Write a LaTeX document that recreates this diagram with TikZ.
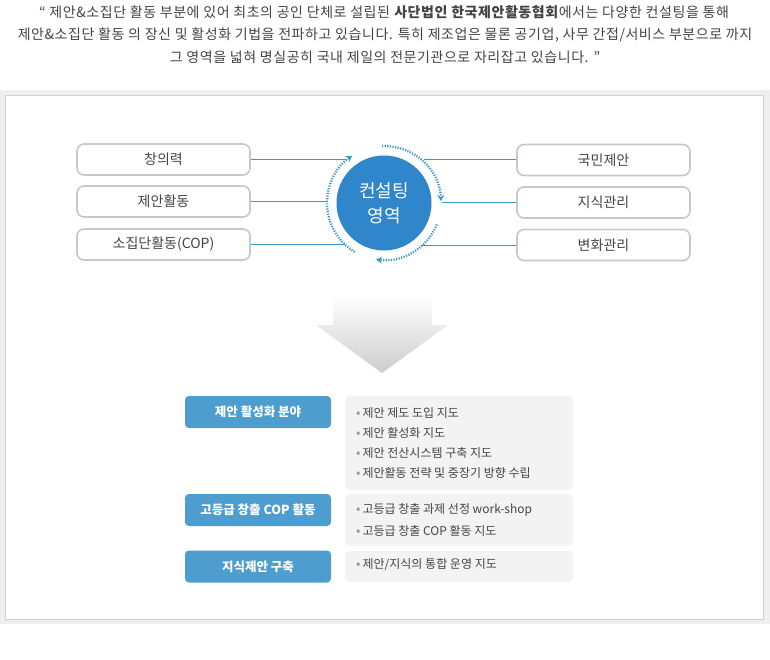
\documentclass[tikz,border=0pt]{standalone}
\usepackage{fontspec}
\setmainfont{Noto Sans CJK KR}
\usetikzlibrary{arrows.meta,calc}
\definecolor{txt}{RGB}{68,68,68}
\definecolor{boxline}{RGB}{200,200,200}
\definecolor{circblue}{RGB}{47,134,203}
\definecolor{lineblue}{RGB}{62,150,205}
\definecolor{labblue}{RGB}{77,157,206}
\definecolor{greyfill}{RGB}{243,243,243}
\definecolor{bandgrey}{RGB}{239,239,239}
\definecolor{frame}{RGB}{210,210,210}
\definecolor{bullet}{RGB}{150,150,150}
\tikzset{
  areabox/.style={draw=boxline, line width=1.6pt, rounded corners=7pt, fill=white,
    minimum width=173pt, minimum height=31pt, inner sep=0pt, text=txt,
    font=\fontsize{14}{16}\selectfont},
  labbox/.style={fill=labblue, rounded corners=4pt, minimum width=146pt, minimum height=32pt,
    inner sep=0pt, text=white, font=\fontsize{12.5}{14}\selectfont\bfseries},
  greybox/.style={fill=greyfill, rounded corners=5pt, minimum width=228pt, inner sep=0pt},
  item/.style={anchor=west, inner sep=0pt, text=txt, font=\fontsize{12}{14}\selectfont},
  conn/.style={draw=lineblue, line width=1pt},
  ringarrow/.style={draw=lineblue, line width=2.3pt, dash pattern=on 1.2pt off 1.4pt,
    -{Stealth[length=6pt,width=7pt]}},
  headline/.style={text=txt, inner sep=0pt, font=\fontsize{14}{16}\selectfont\addfontfeatures{LetterSpace=4}}
}
\newcommand{\bul}{{\color{bullet}\fontsize{13}{10}\selectfont•}\hspace{2pt}}
\begin{document}
\begin{tikzpicture}[x=1pt,y=-1pt]
\useasboundingbox (0,0) rectangle (770,660);
\fill[white] (0,0) rectangle (770,660);
% header
\node[headline] (h1) at (384,12) {“ 제안\&소집단 활동 부분에 있어 최초의 공인 단체로 설립된 \textbf{사단법인 한국제안활동협회}에서는 다양한 컨설팅을 통해};
\node[headline] (h2) at (385,35) {제안\&소집단 활동 의 장신 및 활성화 기법을 전파하고 있습니다. 특히 제조업은 물론 공기업, 사무 간접/서비스 부분으로 까지};
\node[headline] (h3) at (385,57) {그 영역을 넓혀 명실공히 국내 제일의 전문기관으로 자리잡고 있습니다. ”};
% frame
\fill[bandgrey] (0,90) rectangle (770,624);
\filldraw[fill=white, draw=frame, line width=1pt] (5.5,95.5) rectangle (763.5,619.5);
% circle
\coordinate (c) at (384,203);
\coordinate (rl1) at ($(c)+(-37,-44)$);
\coordinate (rl2) at ($(c)+(-57,0)$);
\coordinate (rl3) at ($(c)+(-39,42)$);
\coordinate (rr1) at ($(c)+(40,-43)$);
\coordinate (rr2) at ($(c)+(58,0)$);
\coordinate (rr3) at ($(c)+(38,42)$);
% boxes
\node[areabox] (l1) at (163.5,159.5) {창의력};
\node[areabox] (l2) at (163.5,201.5) {제안활동};
\node[areabox] (l3) at (163.5,244.5) {소집단활동(COP)};
\node[areabox] (r1) at (603.5,160) {국민제안};
\node[areabox] (r2) at (603.5,202.5) {지식관리};
\node[areabox] (r3) at (603.5,245) {변화관리};
\draw[conn] (l1.east) -- (l1.east -| rl1);
\draw[conn] (l2.east) -- (l2.east -| rl2);
\draw[conn] (l3.east) -- (l3.east -| rl3);
\draw[conn] (r1.west) -- (r1.west -| rr1);
\draw[conn] (r2.west) -- (r2.west -| rr2);
\draw[conn] (r3.west) -- (r3.west -| rr3);
\node[circle, fill=circblue, minimum size=95pt, inner sep=0pt, text=white, align=center,
  font=\fontsize{18}{25}\selectfont] (core) at (c) {컨설팅\\영역};
% ring arrows
\draw[ringarrow] ($(c)+(22:57)$) arc[start angle=22, end angle=98, radius=57];
\draw[ringarrow] ($(c)+(121:57)$) arc[start angle=121, end angle=236, radius=57];
\draw[ringarrow] ($(c)+(268:57)$) arc[start angle=268, end angle=358, radius=57];
% big down arrow
\shade[top color=white, bottom color=black!20]
  (333,296) -- (432,296) -- (432,325) -- (448,325) -- (382,373) -- (316,325) -- (333,325) -- cycle;
% bottom section
\node[labbox] (b1) at (258,412) {제안 활성화 분야};
\node[labbox] (b2) at (258,510) {고등급 창출 COP 활동};
\node[labbox] (b3) at (258,566.5) {지식제안 구축};
\node[greybox, minimum height=94pt] (g1) at (459,443) {};
\node[greybox, minimum height=52pt] (g2) at (459,520) {};
\node[greybox, minimum height=31pt] (g3) at (459,566.5) {};
\node[item] (t11) at (356,413) {\bul 제안 제도 도입 지도};
\node[item] (t12) at (356,433) {\bul 제안 활성화 지도};
\node[item] (t13) at (356,453) {\bul 제안 전산시스템 구축 지도};
\node[item] (t14) at (356,473) {\bul 제안활동 전략 및 중장기 방향 수립};
\node[item] (t21) at (356,510) {\bul 고등급 창출 과제 선정 work-shop};
\node[item] (t22) at (356,531) {\bul 고등급 창출 COP 활동 지도};
\node[item] (t31) at (356,565) {\bul 제안/지식의 통합 운영 지도};
\end{tikzpicture}
\end{document}
